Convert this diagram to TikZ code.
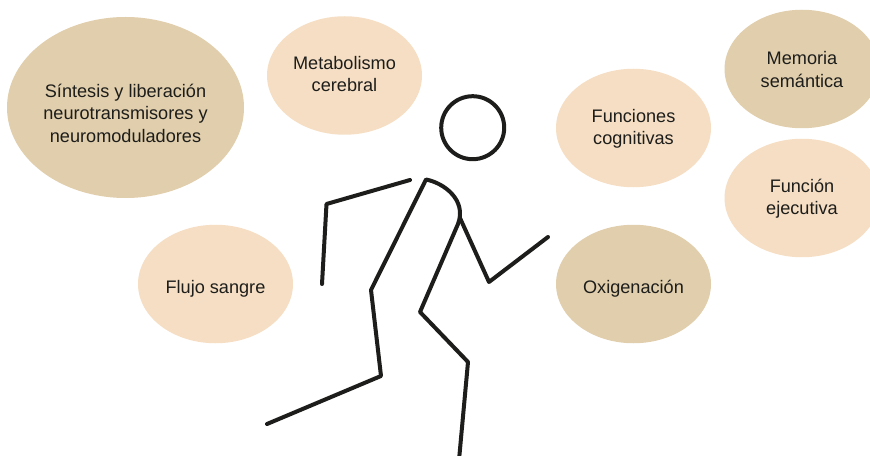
\documentclass[tikz,border=0pt]{standalone}
\usepackage{fontspec}
\setmainfont{Liberation Sans}
\usetikzlibrary{shapes.geometric}
\definecolor{lightbub}{HTML}{F5DEC3}
\definecolor{darkbub}{HTML}{E0CEAC}
\definecolor{figline}{HTML}{1D1D1B}
\newlength{\punit}\setlength{\punit}{0.75pt}
\newcommand{\bubtext}[2]{\raisebox{#1}[0pt][0pt]{\begin{tabular}{@{}c@{}}#2\end{tabular}}}
\tikzset{
  bubble/.style={ellipse,inner sep=0pt,minimum width=155\punit,minimum height=118.5\punit,text=figline,font=\fontsize{13.6pt}{17pt}\selectfont},
  lightb/.style={bubble,fill=lightbub},
  darkb/.style={bubble,fill=darkbub},
  limb/.style={draw=figline,line width=3pt,line join=round,line cap=round}
}
\begin{document}
\begin{tikzpicture}[x=0.75pt,y=-0.75pt]
\useasboundingbox (0,0) rectangle (870,456);
\begin{scope}
\clip (0,0) rectangle (870,456);
\node[darkb,minimum width=237\punit,minimum height=181\punit] (sintesis) at (125.5,107.5) {\bubtext{-9.4pt}{Síntesis y liberación\\neurotransmisores y\\neuromoduladores}};
\node[lightb] (metabolismo) at (344.5,75.5) {\bubtext{-4pt}{Metabolismo\\cerebral}};
\node[lightb] (funciones) at (633.5,128) {\bubtext{-4.2pt}{Funciones\\cognitivas}};
\node[darkb] (memoria) at (802,69) {\bubtext{-5.6pt}{Memoria\\semántica}};
\node[lightb] (funcion) at (802,198) {\bubtext{-4.2pt}{Función\\ejecutiva}};
\node[darkb] (oxigenacion) at (633.5,284) {\bubtext{-7.2pt}{Oxigenación}};
\node[lightb] (flujo) at (215.5,284) {\bubtext{-7.2pt}{Flujo sangre}};
\node[circle,draw=figline,line width=3pt,minimum size=63\punit,inner sep=0pt] (cabeza) at (472.7,127.7) {};
\draw[limb] (410,180) -- (326.5,204) -- (322,284);
\draw[limb] (267,424) -- (381,376) -- (371,290) -- (426,179.5)
  .. controls (444,183) and (467,200) .. (458,224)
  -- (420,312) -- (468,362) -- (459,460);
\draw[limb] (460,218) -- (489,282) -- (548,237);
\end{scope}
\end{tikzpicture}
\end{document}
